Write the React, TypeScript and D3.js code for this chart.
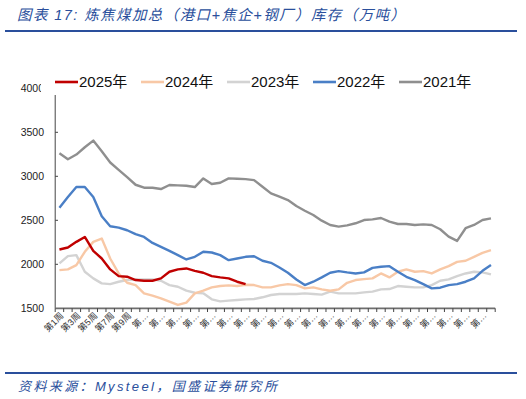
import * as d3 from "d3"

const weeks = d3.range(1, 53).map((w) => `第${w}周`)

const yTicks = [1500, 2000, 2500, 3000, 3500, 4000]

const d2025 = [2168, 2191, 2255, 2311, 2153, 2066, 1942, 1866, 1859, 1821, 1813, 1813, 1840, 1915, 1942, 1953, 1926, 1904, 1866, 1851, 1840, 1802, 1775]

const d2024 = [1934, 1942, 1991, 2142, 2255, 2293, 2066, 1896, 1790, 1764, 1670, 1643, 1613, 1575, 1538, 1564, 1670, 1700, 1738, 1753, 1760, 1753, 1768, 1764, 1738, 1738, 1760, 1775, 1764, 1726, 1738, 1715, 1700, 1715, 1790, 1821, 1832, 1840, 1896, 1851, 1915, 1942, 1915, 1923, 1896, 1942, 1979, 2028, 2040, 2085, 2130, 2160]

const d2023 = [2010, 2093, 2104, 1915, 1840, 1783, 1775, 1802, 1821, 1828, 1828, 1828, 1813, 1764, 1745, 1700, 1677, 1670, 1602, 1579, 1587, 1594, 1602, 1606, 1625, 1651, 1662, 1662, 1662, 1670, 1662, 1655, 1689, 1670, 1670, 1670, 1681, 1689, 1715, 1719, 1753, 1745, 1738, 1738, 1764, 1813, 1828, 1866, 1896, 1915, 1908, 1885]

const d2022 = [2644, 2764, 2878, 2878, 2764, 2545, 2432, 2417, 2387, 2342, 2311, 2243, 2198, 2153, 2104, 2055, 2085, 2142, 2134, 2104, 2047, 2066, 2085, 2092, 2040, 2017, 1964, 1904, 1828, 1764, 1802, 1851, 1904, 1923, 1908, 1896, 1908, 1960, 1972, 1979, 1915, 1858, 1821, 1775, 1726, 1734, 1764, 1775, 1802, 1840, 1926, 1991]

const d2021 = [3262, 3194, 3247, 3330, 3406, 3285, 3157, 3074, 2991, 2904, 2870, 2870, 2855, 2901, 2897, 2893, 2878, 2976, 2912, 2927, 2976, 2972, 2968, 2957, 2882, 2806, 2768, 2730, 2662, 2609, 2560, 2496, 2447, 2428, 2443, 2466, 2503, 2511, 2526, 2484, 2458, 2458, 2447, 2454, 2447, 2398, 2315, 2266, 2410, 2447, 2503, 2522]

// drawn back to front
const series = [
  { name: "2021年", values: d2021, color: "#8f8f8f" },
  { name: "2023年", values: d2023, color: "#d3d3d3" },
  { name: "2024年", values: d2024, color: "#f8c8a6" },
  { name: "2022年", values: d2022, color: "#4a7fc6" },
  { name: "2025年", values: d2025, color: "#c00000" },
]
const legendOrder = ["2025年", "2024年", "2023年", "2022年", "2021年"]

const W = 526
const H = 399
const blue = "#2a4f9c"
const font = "'Liberation Sans', Arial, 'Noto Sans CJK SC', sans-serif"

export default function App() {
  const x = d3.scaleBand<string>().domain(weeks).range([55.2, 495.2]).padding(0)
  const y = d3.scaleLinear().domain([1500, 4000]).range([308.3, 88.3])
  const bw = x.bandwidth()
  const cx = (i: number) => (x(weeks[i]) as number) + bw / 2

  const line = d3
    .line<number>()
    .x((_, i) => cx(i))
    .y((d) => y(d))

  const boundaries = d3.range(0, weeks.length + 1).map((k) => 55.2 + k * bw)

  return (
    <svg width={W} height={H} style={{ position: "absolute", left: 0, top: 0, background: "#fff" }} fontFamily={font}>
      {/* title */}
      <text x={17} y={19.5} fontSize={14.5} fontStyle="italic" fill={blue} textLength={388} lengthAdjust="spacing">
        图表 17: 炼焦煤加总（港口+焦企+钢厂）库存（万吨）
      </text>
      <rect x={5} y={30} width={512} height={2} fill={blue} />

      {/* y axis labels */}
      {yTicks.map((t) => (
        <text key={t} x={44} y={y(t)} dy="0.35em" fontSize={10.5} textAnchor="end" fill="#222">
          {t}
        </text>
      ))}
      {yTicks
        .filter((t) => t > 1500 && t < 4000)
        .map((t) => (
          <line key={t} x1={55.2} x2={58} y1={y(t)} y2={y(t)} stroke="#444" strokeWidth={1} />
        ))}
      <line x1={55.2} x2={55.2} y1={95} y2={308.3} stroke="#444" strokeWidth={1} />

      {/* series */}
      {series.map((s) => (
        <path key={s.name} d={line(s.values) ?? ""} fill="none" stroke={s.color} strokeWidth={2.4} strokeLinejoin="round" />
      ))}

      {/* x axis */}
      <line x1={55.2} x2={495.2} y1={308.3} y2={308.3} stroke="#6e6e6e" strokeWidth={1.8} />
      {boundaries.map((bx, k) => (
        <line key={k} x1={bx} x2={bx} y1={308.3} y2={312} stroke="#444" strokeWidth={1} />
      ))}
      {weeks.map((w, i) =>
        i % 2 === 0 ? (
          <text
            key={w}
            transform={`translate(${cx(i) + 2.5},${314}) rotate(-45)`}
            fontSize={9}
            textAnchor="end"
            dy="0.35em"
            fill="#333"
          >
            {i < 9 ? w : "第…"}
          </text>
        ) : null,
      )}

      {/* legend */}
      <rect x={41} y={68} width={450} height={27} fill="#fff" />
      {legendOrder.map((n, k) => {
        const s = series.find((d) => d.name === n)!
        const lx = 55 + k * 86
        return (
          <g key={n}>
            <line x1={lx} x2={lx + 23} y1={82} y2={82} stroke={s.color} strokeWidth={2.6} />
            <text x={lx + 24} y={82} dy="0.36em" fontSize={15} fill="#111">
              {n}
            </text>
          </g>
        )
      })}

      {/* source */}
      <rect x={5} y={372} width={512} height={2} fill={blue} />
      <text x={18} y={391} fontSize={13} fontStyle="italic" fill={blue} textLength={259} lengthAdjust="spacing">
        资料来源：Mysteel，国盛证券研究所
      </text>
    </svg>
  )
}
